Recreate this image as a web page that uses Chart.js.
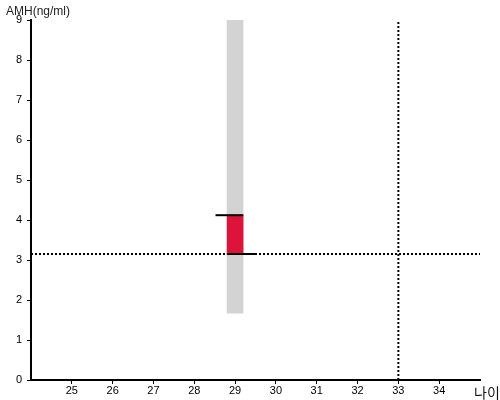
<!DOCTYPE html>
<html>
<head>
<meta charset="utf-8">
<script src="https://cdn.jsdelivr.net/npm/chart.js@4/dist/chart.umd.min.js"></script>
<style>
html,body{margin:0;padding:0;background:#fff;}
#wrap{width:500px;height:400px;}
</style>
</head>
<body>
<div id="wrap"><canvas id="c" width="500" height="400"></canvas></div>
<script>
// ---- data ----
const xTitle = "나이";
const yTitle = "AMH(ng/ml)";
const xRange = [24, 35];
const yRange = [0, 9];
const xTickLabels = [25, 26, 27, 28, 29, 30, 31, 32, 33, 34];
const yTickLabels = [0, 1, 2, 3, 4, 5, 6, 7, 8, 9];
const age = 29;                  // category position of the bars
const normalRange = [1.67, 9];   // grey band
const amhRange = [3.15, 4.12];   // red bar
const upperSegment = [28.52, 29.2];  // x extent of black line at top of red bar
const lowerSegment = [28.8, 29.49];  // x extent of black line at bottom of red bar
const refAge = 33;               // vertical dotted line
const refAmh = 3.15;             // horizontal dotted line

const labelPlugin = {
  id: 'labels',
  afterDraw(chart) {
    const ctx = chart.ctx;
    const a = chart.chartArea;
    ctx.save();
    ctx.fillStyle = '#222';
    ctx.font = '12px "Liberation Sans", Arial, sans-serif';
    ctx.textAlign = 'left';
    ctx.textBaseline = 'alphabetic';
    ctx.fillText(yTitle, 6, 15);
    ctx.fillStyle = '#111';
    ctx.font = '14px "Noto Sans CJK KR", sans-serif';
    ctx.fillText(xTitle, a.right - 6, a.bottom + 18);
    ctx.restore();
  }
};

new Chart(document.getElementById('c'), {
  type: 'bar',
  data: {
    datasets: [
      {
        type: 'line',
        data: [{x: xRange[0], y: refAmh}, {x: xRange[1], y: refAmh}],
        borderColor: '#000', borderWidth: 2, borderDash: [2, 2],
        pointRadius: 0, order: 0
      },
      {
        type: 'line',
        data: [{x: refAge, y: yRange[0]}, {x: refAge, y: yRange[1]}],
        borderColor: '#000', borderWidth: 2, borderDash: [2, 2],
        pointRadius: 0, order: 0
      },
      {
        type: 'line',
        data: [{x: upperSegment[0], y: amhRange[1]}, {x: upperSegment[1], y: amhRange[1]}],
        borderColor: '#000', borderWidth: 2, pointRadius: 0, order: 0
      },
      {
        type: 'line',
        data: [{x: lowerSegment[0], y: amhRange[0]}, {x: lowerSegment[1], y: amhRange[0]}],
        borderColor: '#000', borderWidth: 2, pointRadius: 0, order: 0
      },
      {
        type: 'bar',
        data: [{x: age, y: amhRange}],
        backgroundColor: '#DC143C', barThickness: 16, grouped: false, order: 1
      },
      {
        type: 'bar',
        data: [{x: age, y: normalRange}],
        backgroundColor: '#D3D3D3', barThickness: 16, grouped: false, order: 2
      }
    ]
  },
  options: {
    responsive: false,
    animation: false,
    events: [],
    layout: {padding: {top: 20, right: 20, left: 0, bottom: 0}},
    plugins: {legend: {display: false}, tooltip: {enabled: false}},
    scales: {
      x: {
        type: 'linear', min: xRange[0], max: xRange[1], offset: false,
        afterFit(s) { s.height = 20; },
        afterBuildTicks(s) { s.ticks = xTickLabels.map(v => ({value: v})); },
        grid: {offset: false, drawOnChartArea: false, tickLength: 4, color: '#000', lineWidth: 1},
        border: {color: '#000', width: 2},
        ticks: {color: '#000', font: {family: '"Liberation Sans", Arial, sans-serif', size: 11}, padding: 0, maxRotation: 0, autoSkip: false}
      },
      y: {
        type: 'linear', min: yRange[0], max: yRange[1],
        afterFit(s) { s.width = 31; },
        afterBuildTicks(s) { s.ticks = yTickLabels.map(v => ({value: v})); },
        grid: {offset: false, drawOnChartArea: false, tickLength: 4, color: '#000', lineWidth: 1},
        border: {color: '#000', width: 2},
        ticks: {color: '#000', font: {family: '"Liberation Sans", Arial, sans-serif', size: 11}, padding: 5}
      }
    }
  },
  plugins: [labelPlugin]
});
</script>
</body>
</html>
